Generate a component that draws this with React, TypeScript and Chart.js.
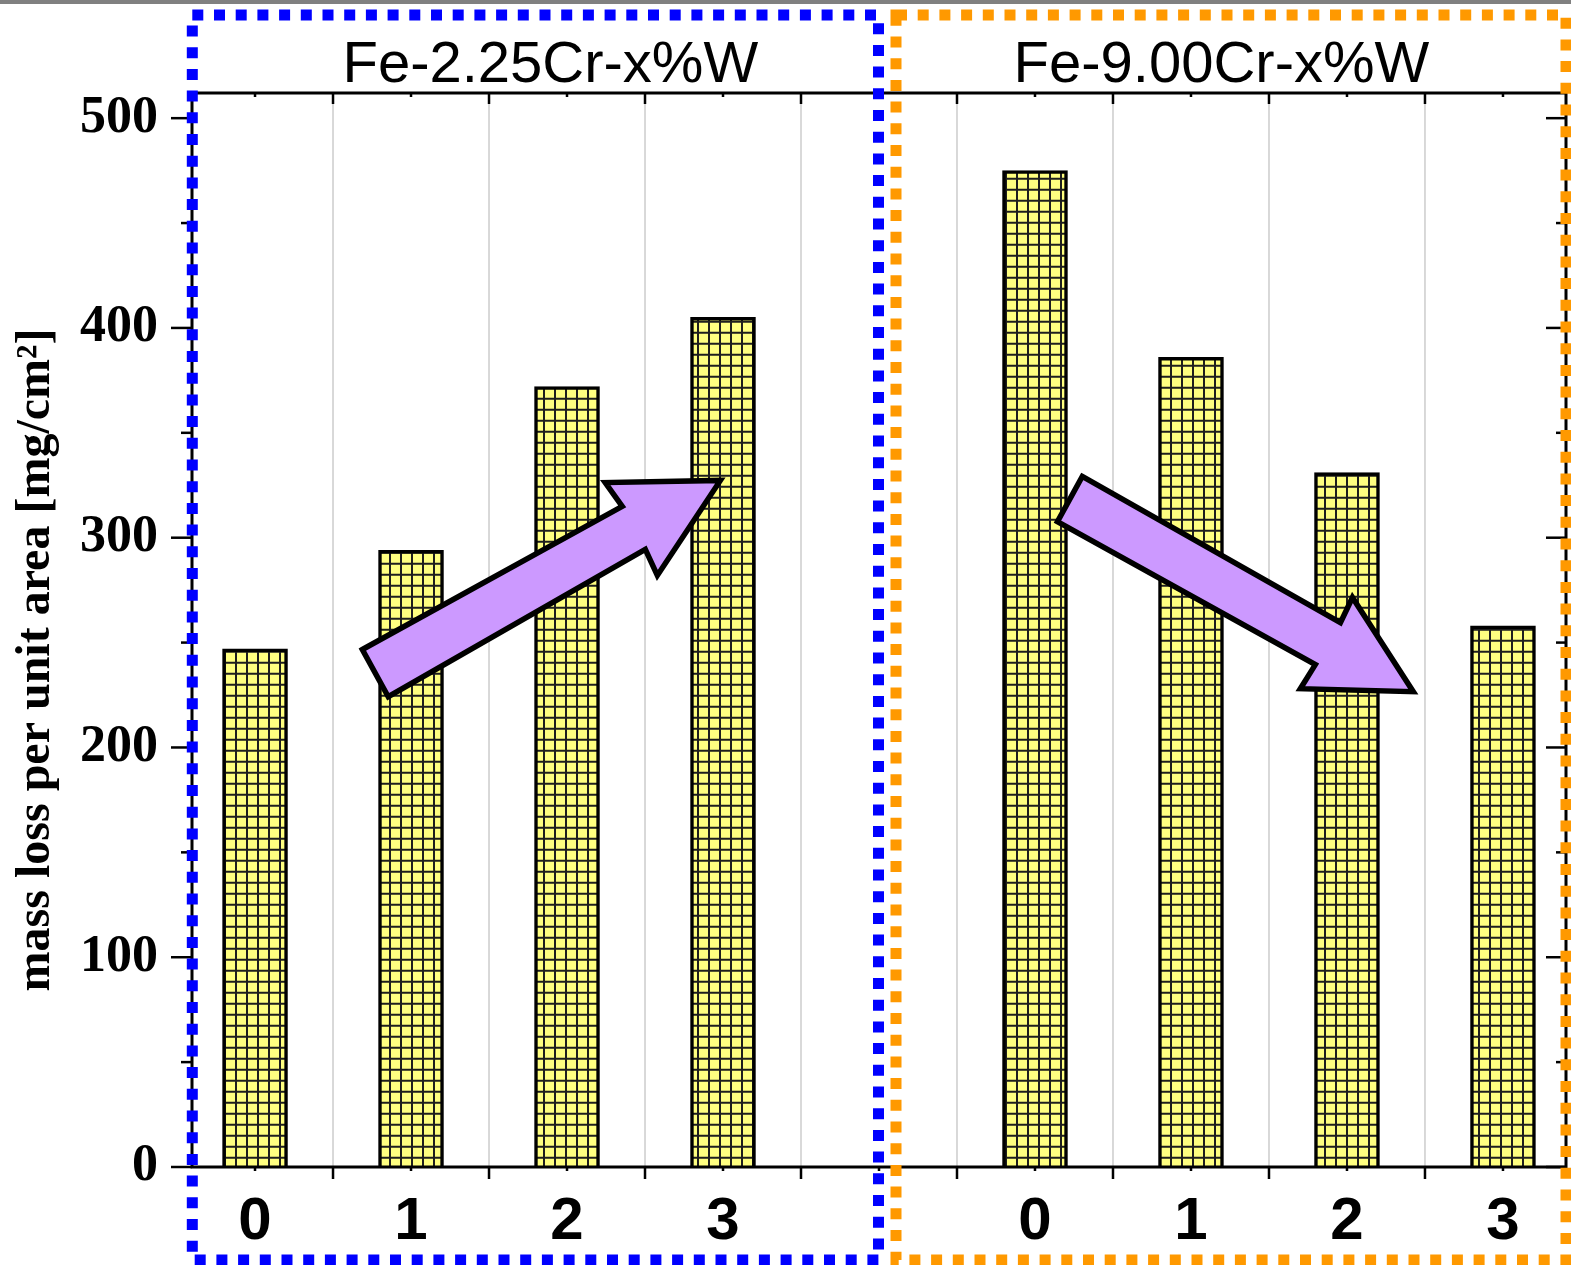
import React, { useEffect, useRef } from 'react';
import { Chart, registerables } from 'chart.js';

Chart.register(...registerables);

// ---- data ----
const categories = ['0', '1', '2', '3'];
const groupTitles = ['Fe-2.25Cr-x%W', 'Fe-9.00Cr-x%W'];
const cr225Values = [247, 294, 372, 405];
const cr900Values = [475, 386, 331, 258];
const group2Offset = 5; // x position of first bar of the 2nd group
const yTicks = [0, 100, 200, 300, 400, 500];
const yMinorTicks = [50, 150, 250, 350, 450];
const yTitle = 'mass loss per unit area [mg/cm²]';
// arrow outlines in data coordinates [x, y]
const arrowUp = [
  [0.688, 246.7], [2.354, 314.9], [2.245, 326.3], [2.983, 327.3],
  [2.579, 282.0], [2.502, 294.4], [0.854, 224.2],
];
const arrowDown = [
  [5.303, 329.2], [6.958, 259.5], [7.035, 271.5], [7.425, 226.6],
  [6.701, 228.0], [6.797, 239.5], [5.144, 307.7],
];
const titleCenters = [1.893, 6.195];

const xTickValues = [
  ...categories.map((_, i) => i),
  ...categories.map((_, i) => i + group2Offset),
];
const xTickLabels = [...categories, ...categories];

const decorPlugin = {
  id: 'decor',
  beforeDatasetsDraw(chart: any) {
    const ctx = chart.ctx;
    const { top, bottom } = chart.chartArea;
    const xs = chart.scales.x;
    ctx.save();
    ctx.strokeStyle = '#cccccc';
    ctx.lineWidth = 1.5;
    for (let v = 0.5; v < 8; v += 1) {
      const px = xs.getPixelForValue(v);
      ctx.beginPath();
      ctx.moveTo(px, top);
      ctx.lineTo(px, bottom);
      ctx.stroke();
    }
    ctx.restore();
  },
  afterDatasetsDraw(chart: any) {
    const ctx = chart.ctx;
    const { left, right, top, bottom } = chart.chartArea;
    const xs = chart.scales.x;
    const ys = chart.scales.y;
    ctx.save();

    // arrows
    const drawArrow = (pts: number[][]) => {
      ctx.beginPath();
      pts.forEach((p, i) => {
        const px = xs.getPixelForValue(p[0]);
        const py = ys.getPixelForValue(p[1]);
        if (i === 0) ctx.moveTo(px, py);
        else ctx.lineTo(px, py);
      });
      ctx.closePath();
      ctx.fillStyle = '#cc99ff';
      ctx.fill();
      ctx.lineWidth = 5.5;
      ctx.lineJoin = 'miter';
      ctx.strokeStyle = '#000';
      ctx.stroke();
    };
    drawArrow(arrowUp);
    drawArrow(arrowDown);

    // frame
    ctx.strokeStyle = '#000';
    ctx.lineWidth = 3;
    ctx.strokeRect(left, top, right - left, bottom - top);

    // ticks
    ctx.lineWidth = 2.5;
    const line = (x1: number, y1: number, x2: number, y2: number) => {
      ctx.beginPath();
      ctx.moveTo(x1, y1);
      ctx.lineTo(x2, y2);
      ctx.stroke();
    };
    for (let v = 0.5; v < 8; v += 1) {
      const px = xs.getPixelForValue(v);
      line(px, bottom, px, bottom + 12);
      line(px, top, px, top + 11);
    }
    for (let v = 0; v <= 8; v += 1) {
      const px = xs.getPixelForValue(v);
      line(px, bottom, px, bottom + 4);
      line(px, top, px, top + 4);
    }
    yTicks.forEach((v) => {
      const py = ys.getPixelForValue(v);
      line(left - 21, py, left, py);
      line(right - 20, py, right, py);
    });
    yMinorTicks.forEach((v) => {
      const py = ys.getPixelForValue(v);
      line(left - 11, py, left, py);
      line(right - 10, py, right, py);
    });

    // group titles
    ctx.fillStyle = '#000';
    ctx.font = '58px "Liberation Sans", Arial, sans-serif';
    ctx.textAlign = 'center';
    ctx.textBaseline = 'alphabetic';
    groupTitles.forEach((t, i) => {
      ctx.fillText(t, xs.getPixelForValue(titleCenters[i]), top - 11);
    });

    // y title
    ctx.save();
    ctx.translate(37, (top + bottom) / 2 + 30);
    ctx.rotate(-Math.PI / 2);
    ctx.font = 'bold 48px "Liberation Serif", "Times New Roman", serif';
    ctx.textAlign = 'center';
    ctx.textBaseline = 'middle';
    ctx.fillText(yTitle, 0, 0);
    ctx.restore();

    // dashed group boxes
    const mid = xs.getPixelForValue(group2Offset - 1);
    const boxTop = top - 78;
    const boxBottom = bottom + 93;
    ctx.lineWidth = 11;
    ctx.lineCap = 'butt';
    ctx.setLineDash([11, 10.7]);
    ctx.strokeStyle = '#0000ff';
    ctx.strokeRect(left + 0.3, boxTop, mid - 0.5 - (left + 0.3), boxBottom - boxTop);
    ctx.strokeStyle = '#ff9900';
    ctx.strokeRect(mid + 17, boxTop, right - (mid + 17), boxBottom - boxTop);
    ctx.setLineDash([]);

    // top grey strip
    ctx.fillStyle = '#808080';
    ctx.fillRect(0, 0, chart.width, 4);

    ctx.restore();
  },
};

export default function App() {
  const ref = useRef<HTMLCanvasElement | null>(null);

  useEffect(() => {
    document.body.style.margin = '0';
    const canvas = ref.current!;
    const ctx = canvas.getContext('2d')!;

    const pc = document.createElement('canvas');
    pc.width = 11;
    pc.height = 11;
    const g = pc.getContext('2d')!;
    g.fillStyle = '#ffff80';
    g.fillRect(0, 0, 11, 11);
    g.fillStyle = '#1e1e1e';
    g.fillRect(0, 0, 2, 11);
    g.fillRect(0, 0, 11, 2);
    const pattern = ctx.createPattern(pc, 'repeat')!;
    try {
      pattern.setTransform(new DOMMatrix([1, 0, 0, 1, 4, 1.7]));
    } catch (e) {}

    const chart = new Chart(canvas, {
      type: 'bar',
      data: {
        datasets: [
          {
            data: cr225Values.map((v, i) => ({ x: i, y: v })),
            backgroundColor: pattern as any,
            borderColor: '#000',
            borderWidth: 3.5,
            barThickness: 65,
            grouped: false,
          } as any,
          {
            data: cr900Values.map((v, i) => ({ x: i + group2Offset, y: v })),
            backgroundColor: pattern as any,
            borderColor: '#000',
            borderWidth: 3.5,
            barThickness: 65,
            grouped: false,
          } as any,
        ],
      },
      options: {
        responsive: false,
        animation: false,
        devicePixelRatio: 1,
        layout: { padding: { top: 93, right: 5, left: 0, bottom: 0 } },
        plugins: {
          legend: { display: false },
          tooltip: { enabled: false },
          title: { display: false },
        },
        scales: {
          x: {
            type: 'linear',
            offset: false,
            min: -0.404,
            max: 8.404,
            afterBuildTicks: (s: any) => {
              s.ticks = xTickValues.map((v) => ({ value: v }));
            },
            afterFit: (s: any) => {
              s.height = 98;
            },
            ticks: {
              autoSkip: false,
              maxRotation: 0,
              padding: 19,
              color: '#000',
              font: { family: '"Liberation Sans", Arial, sans-serif', weight: 'bold', size: 60 },
              callback: (_v: any, i: number) => xTickLabels[i],
            },
            grid: { display: true, offset: false, drawOnChartArea: false, drawTicks: false },
            border: { display: false },
          },
          y: {
            type: 'linear',
            min: 0,
            max: 512,
            afterBuildTicks: (s: any) => {
              s.ticks = yTicks.map((v) => ({ value: v }));
            },
            afterFit: (s: any) => {
              s.width = 192;
            },
            ticks: {
              padding: 34,
              color: '#000',
              font: { family: '"Liberation Serif", "Times New Roman", serif', weight: 'bold', size: 52 },
              callback: (v: any) => String(v),
            },
            grid: { display: true, drawOnChartArea: false, drawTicks: false },
            border: { display: false },
          },
        },
      } as any,
      plugins: [decorPlugin],
    });

    return () => chart.destroy();
  }, []);

  return (
    <canvas
      ref={ref}
      width={1571}
      height={1265}
      style={{ display: 'block', width: 1571, height: 1265 }}
    />
  );
}
